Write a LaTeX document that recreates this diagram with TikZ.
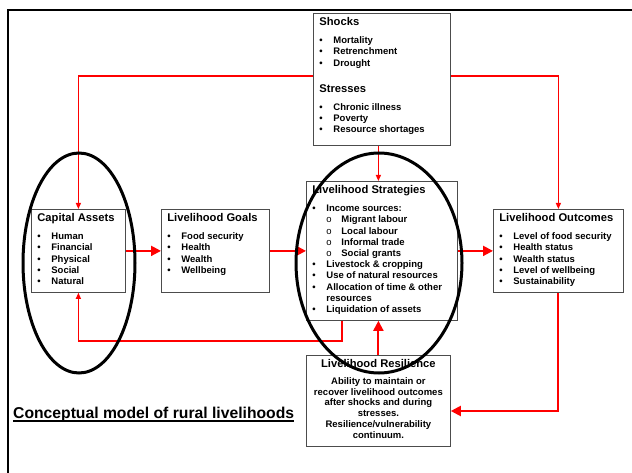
\documentclass[tikz,border=0pt]{standalone}
\usepackage{fontspec}
\setmainfont{Liberation Sans}
\usepackage{enumitem}
\usetikzlibrary{arrows.meta}

\newlist{points}{itemize}{2}
\setlist[points,1]{label=\textbullet, leftmargin=14pt, labelwidth=8pt, labelsep=6pt, align=left, topsep=7pt, itemsep=0pt, parsep=0pt, partopsep=0pt}
\setlist[points,2]{label={\mdseries o}, leftmargin=15pt, labelwidth=9pt, labelsep=6pt, align=left, topsep=0pt, itemsep=0pt, parsep=0pt, partopsep=0pt}
\newcommand{\boxhead}[1]{{\fontsize{11.2}{13}\selectfont #1\par}}
\newcommand{\boxtext}[3]{\begin{minipage}[t][#2][t]{#1}\raggedright#3\end{minipage}}

\tikzset{
  panel/.style={draw=black!70, line width=0.8pt, fill=white, anchor=north west,
    inner xsep=6pt, inner ysep=4pt, font=\bfseries\fontsize{9.5}{11.2}\selectfont},
  flow/.style={draw=red, line width=2pt, -{Triangle[length=10pt,width=10pt]}},
  link/.style={draw=red, line width=1.2pt, -{Triangle[length=6pt,width=5pt]}},
  ring/.style={draw=black, line width=3pt},
}

\begin{document}
\begin{tikzpicture}[x=1pt,y=-1pt]
    \useasboundingbox (0,0) rectangle (632,473);
    \draw[line width=2pt] (8,473) -- (8,10) -- (632,10);

    % boxes
    \node[panel] (shocks) at (313,13) {\boxtext{125pt}{124pt}{%
      \boxhead{Shocks}
      \begin{points}
        \item Mortality
        \item Retrenchment
        \item Drought
      \end{points}
      \vspace{6pt}
      \boxhead{Stresses}
      \begin{points}
        \item Chronic illness
        \item Poverty
        \item Resource shortages
      \end{points}}};
    \node[panel] (assets) at (31,209) {\boxtext{82pt}{75pt}{%
      \boxhead{Capital Assets}
      \begin{points}
        \item Human
        \item Financial
        \item Physical
        \item Social
        \item Natural
      \end{points}}};
    \node[panel] (goals) at (161,209) {\boxtext{96pt}{75pt}{%
      \boxhead{Livelihood Goals}
      \begin{points}
        \item Food security
        \item Health
        \item Wealth
        \item Wellbeing
      \end{points}}};
    \node[panel] (strat) at (306,181) {\boxtext{139pt}{131pt}{%
      \boxhead{Livelihood Strategies}
      \begin{points}
        \item Income sources:
        \begin{points}
          \item Migrant labour
          \item Local labour
          \item Informal trade
          \item Social grants
        \end{points}
        \item Livestock \& cropping
        \item Use of natural resources
        \item Allocation of time \& other resources
        \item Liquidation of assets
      \end{points}}};
    \node[panel] (outcomes) at (493,209) {\boxtext{118pt}{75pt}{%
      \boxhead{Livelihood Outcomes}
      \begin{points}
        \item Level of food security
        \item Health status
        \item Wealth status
        \item Level of wellbeing
        \item Sustainability
      \end{points}}};
    \node[panel] (res) at (306,355) {\boxtext{132pt}{83pt}{\centering
      \boxhead{Livelihood Resilience}
      \vspace{6pt}
      {\fontsize{9.5}{10.8}\selectfont Ability to maintain or\\
      recover livelihood outcomes\\
      after shocks and during\\
      stresses.\\
      Resilience/vulnerability\\
      continuum.\par}}};

    \node[anchor=base west, inner sep=0pt, font=\bfseries\fontsize{15.7}{18}\selectfont] (title) at (13,418) {Conceptual model of rural livelihoods};
    \draw[line width=1.5pt] ([yshift=-3pt]title.base west) -- ([yshift=-3pt]title.base east);

    % connectors
    \coordinate (topline) at (0,76);
    \coordinate (turn) at (0,411);
    \coordinate (loop) at (342,341);
    \draw[link] (shocks.west |- topline) -| (assets.north);
    \draw[link] (shocks.east |- topline) -| (outcomes.north);
    \draw[link] (shocks.south -| res.north) -- (strat.north -| res.north);
    \draw[flow] (assets.east) -- (goals.west);
    \draw[flow] (goals.east) -- (strat.west |- goals.east);
    \draw[flow] (strat.east |- outcomes.west) -- (outcomes.west);
    \draw[flow] (outcomes.south) -- (outcomes.south |- turn) -- (res.east |- turn);
    \draw[flow] (res.north) -- (strat.south -| res.north);
    \draw[link] (strat.south -| loop) -- (loop) -| (assets.south);

    % rings
    \draw[ring] (79,263) ellipse [x radius=56pt, y radius=110pt];
    \draw[ring] (379,263) ellipse [x radius=83pt, y radius=110pt];
\end{tikzpicture}
\end{document}
